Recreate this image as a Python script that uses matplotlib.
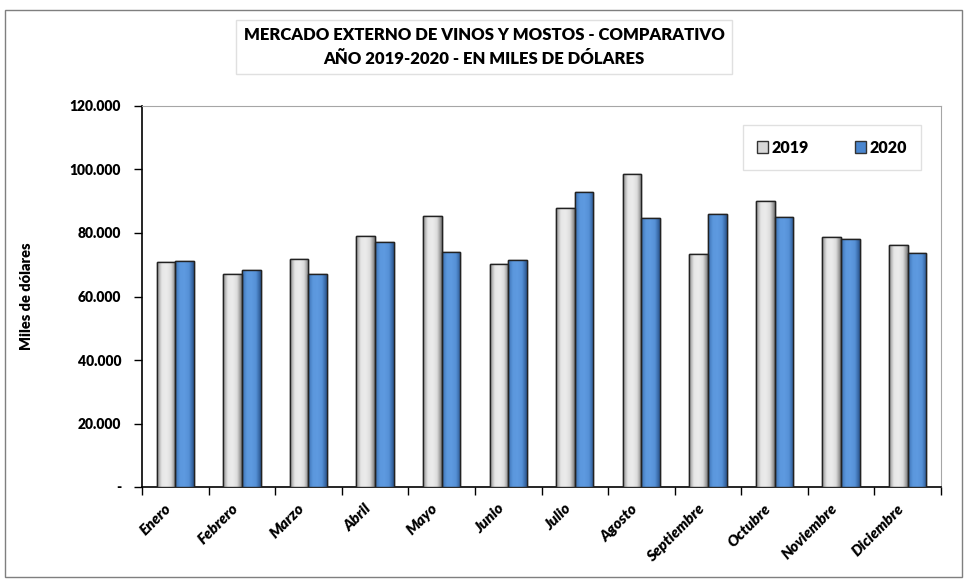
import numpy as np
import matplotlib
matplotlib.use("Agg")
from matplotlib import pyplot as plt
from matplotlib.patches import Rectangle, Patch
from matplotlib.colors import LinearSegmentedColormap
from matplotlib.ticker import FuncFormatter, FixedLocator
from matplotlib.transforms import ScaledTranslation

plt.rcParams['font.family'] = ['Lato', 'DejaVu Sans']
BOLD = 'heavy'
plt.rcParams['font.weight'] = BOLD

meses = ["Enero", "Febrero", "Marzo", "Abril", "Mayo", "Junio", "Julio",
         "Agosto", "Septiembre", "Octubre", "Noviembre", "Diciembre"]
v2019 = [70.9, 67.1, 71.9, 79.1, 85.5, 70.2, 87.9, 98.5, 73.3, 90.2, 78.7, 76.3]
v2020 = [71.3, 68.3, 67.1, 77.1, 74.1, 71.6, 92.8, 84.7, 86.1, 85.1, 78.0, 73.6]
v2019 = [v * 1000 for v in v2019]
v2020 = [v * 1000 for v in v2020]
series = ["2019", "2020"]

W = 0.28

fig = plt.figure(figsize=(9.66, 5.81), dpi=100)
ax = fig.add_axes([142/966, 1-487/581, (941-142)/966, (487-106)/581])

x = np.arange(len(meses))

gray_cm = LinearSegmentedColormap.from_list("g", ["#8c8c8c", "#e6e6e6", "#ececec", "#dcdcdc", "#7a7a7a"])
blue_cm = LinearSegmentedColormap.from_list("b", ["#3a6fb0", "#5b97dd", "#5e9ae0", "#5590d6", "#2a558e"])
grad = np.linspace(0, 1, 64).reshape(1, -1)

def draw(xs, vals, cm, face):
    bars = ax.bar(xs, vals, width=W, color=face, edgecolor="#222222", linewidth=1.0, zorder=3)
    for b in bars:
        x0, y0 = b.get_x(), b.get_y()
        im = ax.imshow(grad, cmap=cm, aspect="auto", extent=[x0, x0 + b.get_width(), y0, y0 + b.get_height()],
                       zorder=3.5, interpolation="bicubic")
        im.set_clip_path(b)
        ax.add_patch(Rectangle((x0, y0), b.get_width(), b.get_height(), fill=False,
                               edgecolor="#222222", linewidth=1.0, zorder=4))
    return bars

b1 = draw(x - W/2, v2019, gray_cm, "#e0e0e0")
b2 = draw(x + W/2, v2020, blue_cm, "#5b97dd")

ax.set_xlim(-0.5, 11.5)
ax.set_ylim(0, 120000)
ax.set_yticks(np.arange(0, 120001, 20000))
ax.yaxis.set_major_formatter(FuncFormatter(lambda v, p: "-" if v == 0 else f"{int(v):,}".replace(",", ".")))
ax.tick_params(axis="y", direction="out", length=6, width=1, labelsize=10, pad=9, colors="black")
for lab in ax.get_yticklabels():
    lab.set_fontweight(BOLD)

ax.set_xticks(x)
ax.set_xticklabels(meses, rotation=45, ha="right", va="center", rotation_mode="anchor",
                   fontsize=11, fontstyle="italic", fontweight=BOLD)
ax.tick_params(axis="x", which="major", length=0, pad=14)
shift = ScaledTranslation(-6/100, 0, fig.dpi_scale_trans)
for lab in ax.get_xticklabels():
    lab.set_transform(lab.get_transform() + shift)
ax.xaxis.set_minor_locator(FixedLocator(np.arange(-0.5, 12, 1)))
ax.tick_params(axis="x", which="minor", direction="out", length=6, width=1)

for s in ["top", "right"]:
    ax.spines[s].set_color("#a6a6a6")
for s in ["left", "bottom"]:
    ax.spines[s].set_color("black")
    ax.spines[s].set_linewidth(1.2)

ax.set_ylabel("Miles de dólares", fontsize=10.5, fontweight=BOLD)
ax.yaxis.set_label_coords((33-142)/799, 0.5)

handles = [Patch(facecolor="#d8d8d8", edgecolor="#333333"), Patch(facecolor="#4a86cf", edgecolor="#333333")]
leg = ax.legend(handles, series, loc="center", ncol=2, bbox_to_anchor=(0.742, 0.837, 0.243, 0.108),
                mode="expand", fancybox=False, edgecolor="#d9d9d9",
                prop={"weight": BOLD, "size": 11.5}, handlelength=0.7, handleheight=0.7,
                handletextpad=0.2, columnspacing=2.0, borderpad=0.9)
leg.get_frame().set_linewidth(1.0)

# title box
fig.text(484/966, 1-47/581, "MERCADO EXTERNO DE VINOS Y MOSTOS - COMPARATIVO\nAÑO 2019-2020 - EN MILES DE DÓLARES",
         ha="center", va="center", fontsize=12, fontweight=BOLD, linespacing=1.6,
         bbox=dict(boxstyle="square,pad=0.45", facecolor="white", edgecolor="#e0e0e0", linewidth=1))

fig.patches.append(Rectangle((5/966, 4/581), 957/966, 567/581, transform=fig.transFigure,
                             fill=False, edgecolor="#7f7f7f", linewidth=1.0))

fig.savefig("out.png", dpi=100)
